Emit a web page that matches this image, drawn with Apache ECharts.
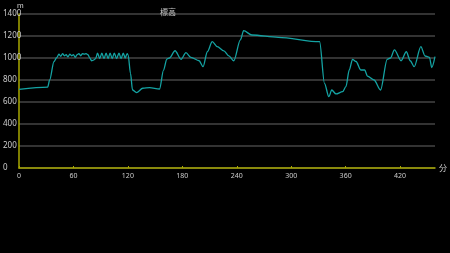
<!DOCTYPE html>
<html><head><meta charset="utf-8">
<script src="https://cdn.jsdelivr.net/npm/echarts@6/dist/echarts.min.js"></script>
<style>html,body{margin:0;padding:0;background:#000}#c{width:450px;height:253px}</style>
</head><body><div id="c"></div>
<script>
const title = '標高';
const xName = '分';
const yName = 'm';
const times = [0,31.6,33.8,38.5,41.5,44,46,48,50,52,54,56,58,60,62,64,66,68,70,72,74,76,78,80,82,84.5,86.5,89,91.3,93.7,96,98.2,100.4,102.7,105,107.6,110.2,112.5,114.9,117,119.2,120.3,122.9,125.1,129.5,136.4,144,154.9,159.3,162.9,165.8,172,178.6,184,189.5,198.5,202.9,207.6,213,218.5,225.8,231.3,236.7,244,247.6,256.7,285.8,331.3,336.7,341.5,344.7,349.4,356.7,360.3,364,367.6,371.5,376.7,381,384,391.3,398.5,405.8,409.4,413.8,421.1,426.9,431.2,435.6,442.9,447.6,452.4,454.9,458.5];
const elev = [715,735,800,966,1003,1035,1015,1040,1020,1030,1010,1035,1020,1030,1005,1030,1040,1020,1040,1035,1040,1030,1000,975,980,995,1045,995,1045,995,1045,995,1045,995,1045,995,1045,995,1045,1000,1040,1027,860,709,685,725,730,718,890,990,1000,1066,988,1048,1006,975,921,1057,1148,1103,1065,1020,975,1164,1248,1209,1188,1148,770,648,709,673,694,739,891,988,968,891,891,836,800,709,988,1000,1073,975,1057,975,921,1103,1018,1006,913,1012];
const xTicks = [0,60,120,180,240,300,360,420];
const yMax = 1400, yInterval = 200;

const data = times.map((t,i)=>[t, elev[i]]);
const chart = echarts.init(document.getElementById('c'));
chart.setOption({
  backgroundColor:'#000',
  animation:false,
  title:{text:title,left:155,top:3,textStyle:{color:'#ccc',fontSize:8,fontWeight:'normal',fontFamily:'Noto Sans CJK JP'}},
  grid:{left:17,right:11,top:14,bottom:85},
  xAxis:{type:'value',min:0,max:458.5,interval:60,name:xName,nameGap:4,
    nameTextStyle:{color:'#ccc',fontSize:8,fontFamily:'Noto Sans CJK JP'},
    axisLine:{lineStyle:{color:'#a8a800',width:1.5}},
    axisTick:{show:true,inside:true,length:2,lineStyle:{color:'#a8a800'}},
    splitLine:{show:false},
    axisLabel:{color:'#ccc',fontSize:7,margin:4,fontFamily:'Noto Sans',
      formatter:v=>xTicks.includes(v)?String(v):'',showMaxLabel:false}},
  yAxis:{type:'value',min:0,max:yMax,interval:yInterval,name:yName,nameGap:2,
    nameTextStyle:{color:'#ccc',fontSize:8,align:'left',padding:[0,0,0,-2]},
    axisLine:{show:true,lineStyle:{color:'#a8a800',width:1.5}},
    axisTick:{show:false},
    splitLine:{lineStyle:{color:'#444',width:1.5}},
    axisLabel:{color:'#ccc',fontSize:8,align:'left',margin:16,fontFamily:'Noto Sans',formatter:v=>String(v)}},
  series:[{type:'line',data:data,showSymbol:false,smooth:0.3,smoothMonotone:'x',
    lineStyle:{color:'#14a3a3',width:1.3}}]
});
</script></body></html>
